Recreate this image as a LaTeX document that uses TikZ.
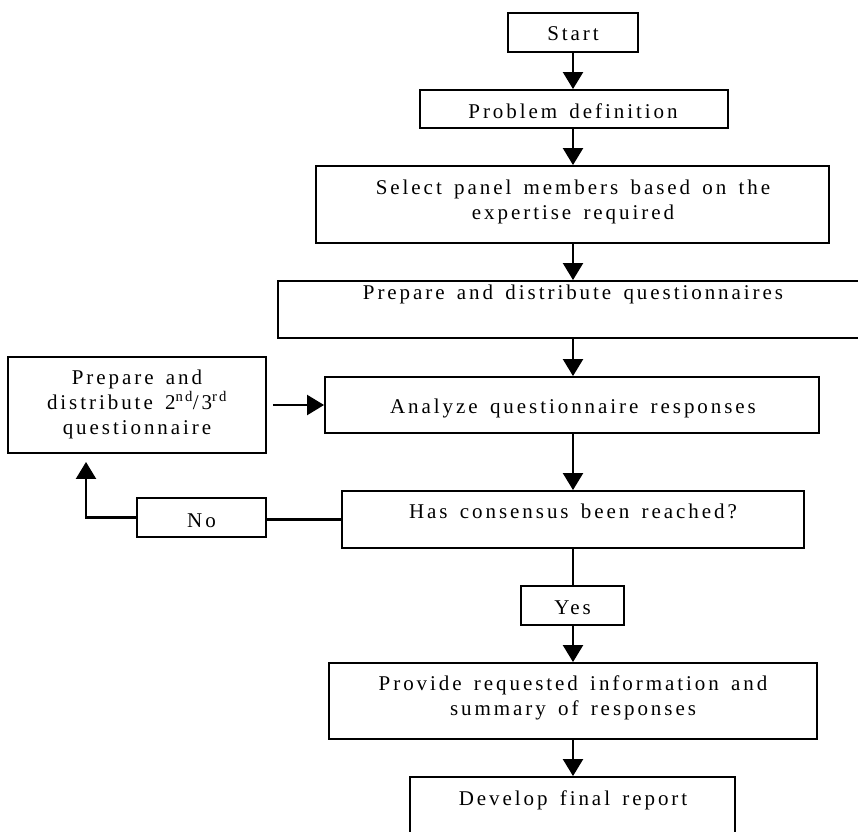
\documentclass[tikz,border=0pt]{standalone}
\usepackage{fontspec}
\setmainfont{Liberation Serif}[LetterSpace=14,WordSpace=1.5]
\usetikzlibrary{arrows.meta}
\begin{document}
\begin{tikzpicture}[x=1pt,y=-1pt,
  box/.style={draw, line width=1.9pt, inner sep=0pt},
  lbl/.style={anchor=base, inner sep=0pt, align=center, font=\fontsize{21}{25}\selectfont},
  arr/.style={line width=2.2pt, -{Triangle[width=20pt,length=17pt]}},
  ln/.style={line width=2.2pt}]
\useasboundingbox (0,0) rectangle (858,831);
% boxes
\node[box, minimum width=130pt, minimum height=39pt] (start) at (573,32.5) {};
\node[box, minimum width=308pt, minimum height=38pt] (prob) at (574,109) {};
\node[box, minimum width=513pt, minimum height=77pt] (sel) at (572.5,204.5) {};
\node[box, minimum width=602pt, minimum height=57pt] (prep) at (579,309.5) {};
\node[box, minimum width=494pt, minimum height=56pt] (ana) at (572,405) {};
\node[box, minimum width=258pt, minimum height=96pt] (redo) at (137,405) {};
\node[box, minimum width=462pt, minimum height=57pt] (cons) at (573,519.5) {};
\node[box, minimum width=129pt, minimum height=39pt] (no) at (201.5,517.5) {};
\node[box, minimum width=103pt, minimum height=39pt] (yes) at (572.5,605.5) {};
\node[box, minimum width=488pt, minimum height=76pt] (prov) at (573,701) {};
\node[box, minimum width=325pt, minimum height=83pt] (dev) at (572.5,818.5) {};
% texts (anchor base = baseline of last line)
\node[lbl] (startt) at (573,40.7) {Start};
\node[lbl] (probt) at (573,118) {Problem definition};
\node[lbl] (selt) at (573,219) {Select panel members based on the\\expertise required};
\node[lbl] (prept) at (573,299) {Prepare and distribute questionnaires};
\node[lbl] (anat) at (573,413) {Analyze questionnaire responses};
\node[lbl] (redot) at (137,434) {Prepare and\\distribute 2\textsuperscript{nd}/3\textsuperscript{rd}\\questionnaire};
\node[lbl] (const) at (573,518) {Has consensus been reached?};
\node[lbl] (not) at (201.5,527) {No};
\node[lbl] (yest) at (572.5,614) {Yes};
\node[lbl] (provt) at (573,715) {Provide requested information and\\summary of responses};
\node[lbl] (devt) at (573,805) {Develop final report};
% connectors
\coordinate (bend) at (86,0);
\draw[arr] (start.south) -- (start.south |- prob.north);
\draw[arr] (start.south |- prob.south) -- (start.south |- sel.north);
\draw[arr] (start.south |- sel.south) -- (start.south |- prep.north);
\draw[arr] (start.south |- prep.south) -- (start.south |- ana.north);
\draw[arr] (start.south |- ana.south) -- (start.south |- cons.north);
\draw[ln] (start.south |- cons.south) -- (start.south |- yes.north);
\draw[arr] (start.south |- yes.south) -- (start.south |- prov.north);
\draw[arr] (start.south |- prov.south) -- (start.south |- dev.north);
\draw[arr, shorten <=6pt] (redo.east) -- (ana.west);
\draw[ln] (cons.west) -- (cons.west -| no.east);
\draw[arr, shorten >=8pt] (no.west) -| (bend |- redo.south);
\end{tikzpicture}
\end{document}
